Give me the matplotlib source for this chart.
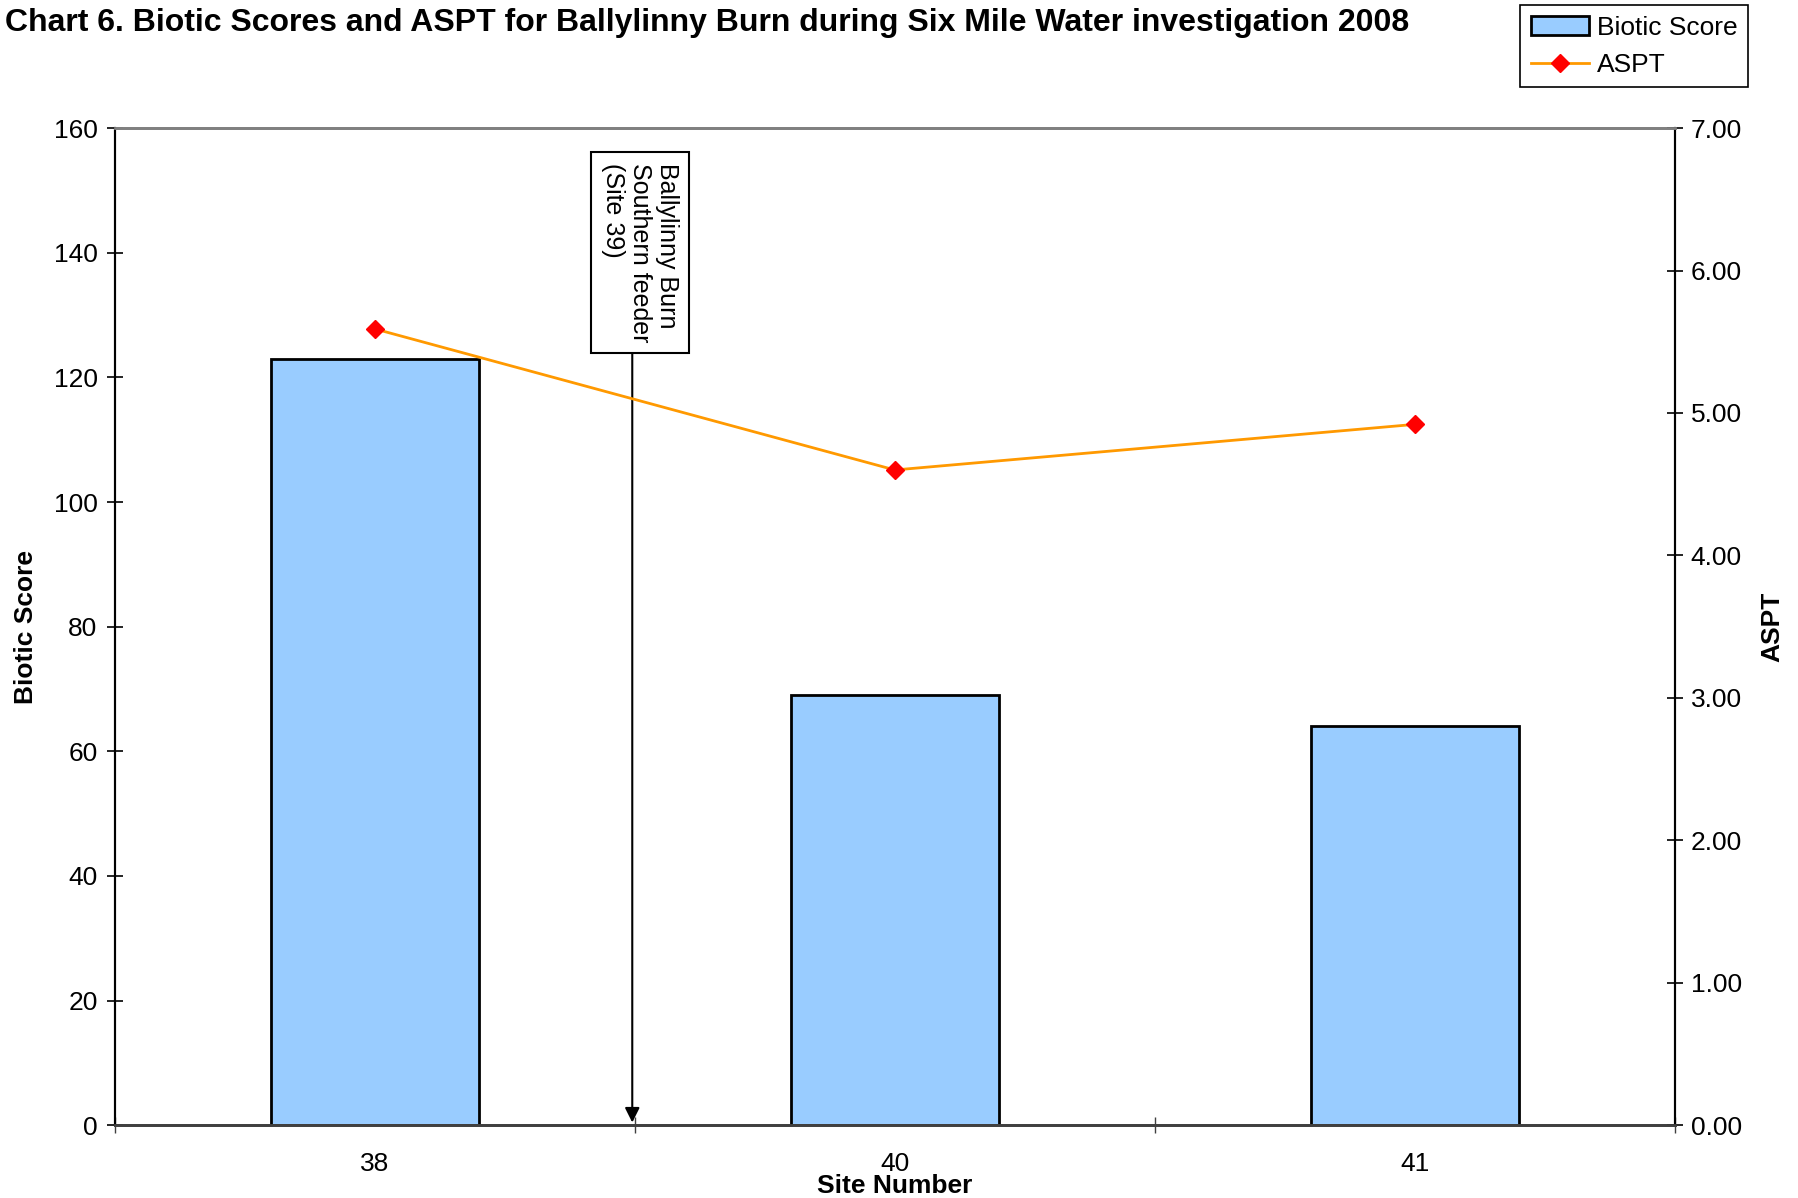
import matplotlib
matplotlib.use('Agg')
import matplotlib.pyplot as plt
from matplotlib.lines import Line2D
from matplotlib.patches import Patch
import numpy as np

plt.rcParams['font.family'] = ['Liberation Sans', 'DejaVu Sans']

# Данные
sites = ['38', '40', '41']
biotic_score = [123, 69, 64]
aspt = [5.59, 4.60, 4.92]

bar_color = '#99CCFF'
line_color = '#FF9900'

fig = plt.figure(figsize=(17.99, 11.98), dpi=100)
ax = fig.add_axes([0.0639, 0.0607, 0.867, 0.8324])
ax2 = ax.twinx()

x = np.arange(len(sites))
ax.bar(x, biotic_score, width=0.4, color=bar_color, edgecolor='black', linewidth=2, zorder=2)
ax2.plot(x, aspt, color=line_color, lw=2, marker='D', markersize=9,
         markerfacecolor='red', markeredgecolor='red', zorder=3)

ax.set_xlim(-0.5, 2.5)
ax.set_ylim(0, 160)
ax2.set_ylim(0, 7)
ax.set_yticks(np.arange(0, 161, 20))
ax2.set_yticks(np.arange(0, 7.01, 1))
ax2.set_yticklabels(['%.2f' % v for v in np.arange(0, 7.01, 1)])

# подписи по категориям, засечки на границах
ax.set_xticks(x)
ax.set_xticklabels(sites)
ax.set_xticks([-0.5, 0.5, 1.5, 2.5], minor=True)
ax.tick_params(axis='x', which='major', length=0, labelsize=19, pad=19)
ax.tick_params(axis='x', which='minor', direction='inout', length=12, width=1, color='#404040')
ax.tick_params(axis='y', direction='inout', length=11, width=1.2, labelsize=19, pad=7)
ax2.tick_params(axis='y', direction='inout', length=11, width=1.2, labelsize=19, pad=6)

for a in (ax, ax2):
    a.spines['top'].set_color('#808080')
    a.spines['top'].set_linewidth(2)
    a.spines['bottom'].set_color('#404040')
    a.spines['bottom'].set_linewidth(2)
    a.spines['left'].set_linewidth(1.5)
    a.spines['right'].set_linewidth(1.5)

ax.set_xlabel('Site Number', fontsize=19, fontweight='bold', labelpad=-1)
ax.set_ylabel('Biotic Score', fontsize=19, fontweight='bold', labelpad=11)
ax2.set_ylabel('ASPT', fontsize=19, fontweight='bold', labelpad=13)

# аннотация для сайта 39
ax.text(0.51, 154.4, 'Ballylinny Burn\nSouthern feeder\n(Site 39)', rotation=270,
        ha='center', va='top', multialignment='left', fontsize=18, linespacing=1.15, zorder=5,
        bbox=dict(boxstyle='square,pad=0.42', facecolor='white', edgecolor='black', linewidth=1.5))
ax.annotate('', xy=(0.495, 0), xytext=(0.495, 124.7),
            arrowprops=dict(arrowstyle='-|>', color='black', lw=1.5, mutation_scale=22), zorder=4)

fig.text(0.003, 1 - 23 / 1198, 'Chart 6. Biotic Scores and ASPT for Ballylinny Burn during Six Mile Water investigation 2008',
         fontsize=23, fontweight='bold', va='center', ha='left')

handles = [Patch(facecolor=bar_color, edgecolor='black', linewidth=2),
           Line2D([0], [0], color=line_color, lw=2, marker='D', markersize=9,
                  markerfacecolor='red', markeredgecolor='red')]
leg = fig.legend(handles, ['Biotic Score', 'ASPT'], loc='upper right',
                 bbox_to_anchor=(0.9716, 1 - 5 / 1198), fontsize=19,
                 fancybox=False, edgecolor='black', framealpha=1,
                 borderaxespad=0, handlelength=2.2, handletextpad=0.3, borderpad=0.4, labelspacing=0.5)
leg.get_frame().set_linewidth(1.2)

plt.savefig('out.png', dpi=100)
plt.close()
